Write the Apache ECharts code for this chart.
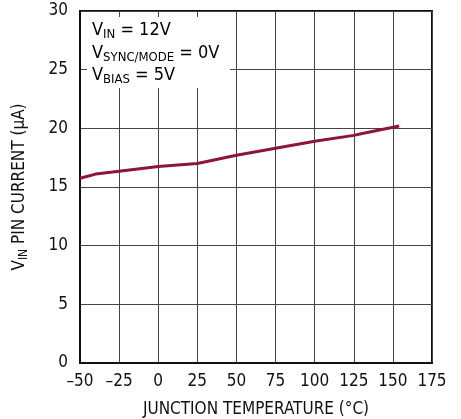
<!DOCTYPE html>
<html><head><meta charset="utf-8">
<script src="https://cdn.jsdelivr.net/npm/echarts@6/dist/echarts.min.js"></script>
<style>html,body{margin:0;padding:0;background:#fff}#c{width:461px;height:419px}</style>
</head><body><div id="c"></div>
<script>
const temps = [-50, -40, -25, 0, 25, 50, 75, 100, 125, 132, 154];
const currents = [15.75, 16.1, 16.35, 16.75, 17.0, 17.7, 18.3, 18.9, 19.4, 19.6, 20.2];
const xTicks = [-50, -25, 0, 25, 50, 75, 100, 125, 150, 175];
const yTicks = [0, 5, 10, 15, 20, 25, 30];
const FONT = "'Liberation Sans Narrow', 'DejaVu Sans Condensed', 'Roboto Condensed', sans-serif";
const chart = echarts.init(document.getElementById('c'), null, {renderer:'canvas'});
const rich = {
  m: {fontSize: 18, fontFamily: FONT, color:'#111', lineHeight: 22, verticalAlign:'middle'},
  s: {fontSize: 13, fontFamily: FONT, color:'#111', lineHeight: 12, verticalAlign:'bottom'}
};
chart.setOption({
  animation: false,
  grid: {left: 80, right: 29, top: 11, bottom: 56, show: true, borderColor: '#111', borderWidth: 2,
         containLabel: false, outerBoundsMode: 'none'},
  xAxis: {
    type: 'value', min: -50, max: 175, interval: 25,
    axisLine: {show: true, onZero: false, lineStyle: {color:'#111', width: 2}},
    axisTick: {show: false},
    splitLine: {show: true, lineStyle: {color: '#444', width: 1}},
    axisLabel: {fontSize: 17, fontFamily: FONT, color: '#111', margin: 10,
      formatter: v => (v < 0 ? '\u2013' + Math.abs(v) : String(v))},
    name: 'JUNCTION TEMPERATURE (\u00b0C)', nameLocation: 'middle', nameGap: 38,
    nameTextStyle: {fontSize: 17, fontFamily: FONT, color: '#111'}
  },
  yAxis: {
    type: 'value', min: 0, max: 30, interval: 5,
    axisLine: {show: true, onZero: false, lineStyle: {color:'#111', width: 2}},
    axisTick: {show: false},
    splitLine: {show: true, lineStyle: {color: '#444', width: 1}},
    axisLabel: {fontSize: 17, fontFamily: FONT, color: '#111', margin: 12},
    name: '{m|V}{s|IN}{m| PIN CURRENT (\u03bcA)}', nameLocation: 'middle', nameGap: 50, nameRotate: 90,
    nameTextStyle: {fontSize: 17, fontFamily: FONT, color: '#111', rich: {
      m: {fontSize: 17, fontFamily: FONT, color:'#111', lineHeight: 20, verticalAlign:'middle'},
      s: {fontSize: 12, fontFamily: FONT, color:'#111', lineHeight: 11, verticalAlign:'bottom'}
    }}
  },
  graphic: [
    {type: 'rect', left: 87, top: 17, shape: {width: 143, height: 71}, style: {fill: '#fff'}, z: 10},
    {type: 'text', left: 92, top: 21, z: 11, style: {text: '{m|V}{s|IN}{m| = 12V}', rich: rich}},
    {type: 'text', left: 92, top: 44, z: 11, style: {text: '{m|V}{s|SYNC/MODE}{m| = 0V}', rich: rich}},
    {type: 'text', left: 92, top: 66, z: 11, style: {text: '{m|V}{s|BIAS}{m| = 5V}', rich: rich}}
  ],
  series: [{
    type: 'line', data: temps.map((t, i) => [t, currents[i]]),
    showSymbol: false, smooth: false,
    lineStyle: {color: '#8f1538', width: 3}
  }]
});
</script></body></html>
